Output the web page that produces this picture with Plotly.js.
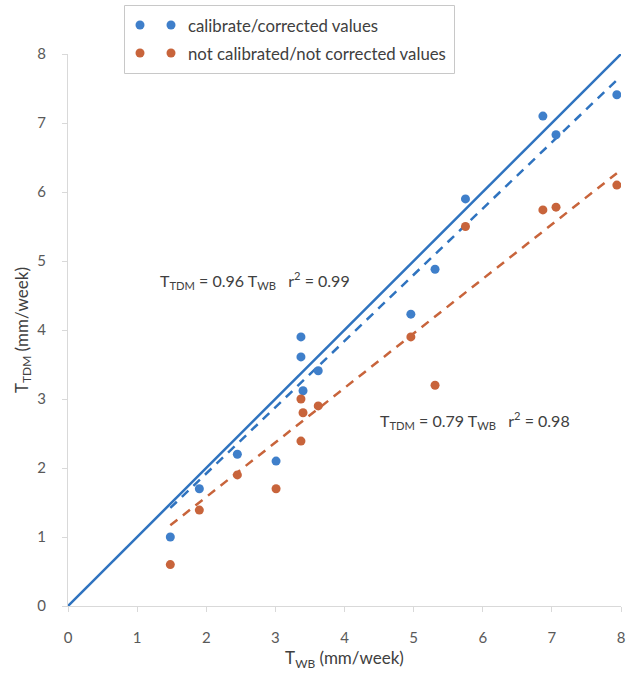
<!DOCTYPE html>
<html>
<head>
<meta charset="utf-8">
<script src="https://cdn.plot.ly/plotly-3.0.1.min.js"></script>
<style>html,body{margin:0;padding:0;background:#fff;}</style>
</head>
<body>
<div id="chart" style="width:630px;height:674px;"></div>
<script>
// Data
const twb = [1.48, 1.90, 2.45, 3.01, 3.37, 3.37, 3.40, 3.62, 4.96, 5.31, 5.75, 6.87, 7.06, 7.94];
const calibrated = [1.00, 1.70, 2.20, 2.10, 3.90, 3.61, 3.12, 3.41, 4.23, 4.88, 5.90, 7.10, 6.83, 7.41];
const twbRaw = [1.48, 1.90, 2.45, 3.01, 3.37, 3.40, 3.37, 3.62, 4.96, 5.31, 5.75, 6.87, 7.06, 7.94];
const notCalibrated = [0.60, 1.39, 1.90, 1.70, 3.00, 2.80, 2.39, 2.90, 3.90, 3.20, 5.50, 5.74, 5.78, 6.10];
const slopeCal = 0.96, r2Cal = 0.99;
const slopeRaw = 0.79, r2Raw = 0.98;
const oneToOne = [0, 8];
const xTicks = [0, 1, 2, 3, 4, 5, 6, 7, 8];
const yTicks = [0, 1, 2, 3, 4, 5, 6, 7, 8];
const seriesNames = ['calibrate/corrected values', 'not calibrated/not corrected values'];

const blue = '#3f7fca';
const blueLine = '#2f73bf';
const orange = '#c8643b';
const FONT = 'Lato, "Open Sans", sans-serif';

const xmin = Math.min(...twb), xmax = Math.max(...twb);
const trendX = [xmin, xmax];

const traces = [
  {x: oneToOne, y: oneToOne, mode: 'lines', line: {color: blueLine, width: 2.5}, hoverinfo: 'skip', showlegend: false},
  {x: trendX, y: trendX.map(v => v * slopeCal), mode: 'lines', line: {color: blueLine, width: 2.5, dash: '9px,7px'}, showlegend: false},
  {x: trendX, y: trendX.map(v => v * slopeRaw), mode: 'lines', line: {color: orange, width: 2.5, dash: '9px,7px'}, showlegend: false},
  {x: twb, y: calibrated, mode: 'markers', name: seriesNames[0], marker: {color: blue, size: 9}, showlegend: false},
  {x: twbRaw, y: notCalibrated, mode: 'markers', name: seriesNames[1], marker: {color: orange, size: 9}, showlegend: false}
];

// pixel helpers for paper coords (plot area 68..621 x, 54..606 y)
const L = 68, R = 9, T = 54, B = 68, W = 630, H = 674;
const pw = W - L - R, ph = H - T - B;
const px = v => (v - L) / pw;
const py = v => (H - B - v) / ph;

function dot(cx, cy, color) {
  return {type: 'circle', xref: 'paper', yref: 'paper', xsizemode: 'pixel', ysizemode: 'pixel',
    xanchor: px(cx), yanchor: py(cy), x0: -4.5, x1: 4.5, y0: -4.5, y1: 4.5,
    fillcolor: color, line: {width: 0}};
}

const shapes = [
  {type: 'rect', xref: 'paper', yref: 'paper', x0: px(124.5), x1: px(454.5), y0: py(5.5), y1: py(73.5),
    line: {color: '#c8c8c8', width: 1}, fillcolor: 'rgba(0,0,0,0)'},
  dot(140, 25, blue), dot(171, 25, blue),
  dot(140, 53, orange), dot(171, 53, orange)
];

const sp = '\u00A0';
const annotations = [
  {xref: 'paper', yref: 'paper', x: px(186), y: py(25), xanchor: 'left', yanchor: 'middle', showarrow: false,
    text: seriesNames[0], font: {family: FONT, size: 16.8, color: '#404040'}},
  {xref: 'paper', yref: 'paper', x: px(186), y: py(53), xanchor: 'left', yanchor: 'middle', showarrow: false,
    text: seriesNames[1], font: {family: FONT, size: 16.8, color: '#404040'}},
  {xref: 'paper', yref: 'paper', x: px(158), y: py(280), xanchor: 'left', yanchor: 'middle', showarrow: false,
    text: 'T<sub>TDM</sub> = ' + slopeCal.toFixed(2) + ' T<sub>WB</sub>' + sp + sp + sp + 'r<sup>2</sup> = ' + r2Cal.toFixed(2),
    font: {family: FONT, size: 16, color: '#404040'}},
  {xref: 'paper', yref: 'paper', x: px(378), y: py(420), xanchor: 'left', yanchor: 'middle', showarrow: false,
    text: 'T<sub>TDM</sub> = ' + slopeRaw.toFixed(2) + ' T<sub>WB</sub>' + sp + sp + sp + 'r<sup>2</sup> = ' + r2Raw.toFixed(2),
    font: {family: FONT, size: 16, color: '#404040'}}
];

const axisCommon = {
  range: [0, 8], showgrid: false, zeroline: false, showline: true, linecolor: '#d9d9d9', linewidth: 1,
  ticks: 'outside', ticklen: 5, tickcolor: '#d9d9d9', tickfont: {family: FONT, size: 15, color: '#595959'},
  fixedrange: true
};

const layout = {
  width: W, height: H,
  margin: {l: L, r: R, t: T, b: B},
  paper_bgcolor: '#fff', plot_bgcolor: '#fff',
  showlegend: false,
  xaxis: Object.assign({}, axisCommon, {tickvals: xTicks, ticktext: xTicks.map(String), ticklabelstandoff: 13,
    title: {text: 'T<sub>WB</sub> (mm/week)', font: {family: FONT, size: 17, color: '#404040'}, standoff: 7}}),
  yaxis: Object.assign({}, axisCommon, {tickvals: yTicks, ticktext: yTicks.map(String), ticklabelstandoff: 13,
    title: {text: 'T<sub>TDM</sub> (mm/week)', font: {family: FONT, size: 17, color: '#404040'}, standoff: 4}}),
  shapes: shapes,
  annotations: annotations
};

Plotly.newPlot('chart', traces, layout, {displayModeBar: false, staticPlot: true});
</script>
</body>
</html>
